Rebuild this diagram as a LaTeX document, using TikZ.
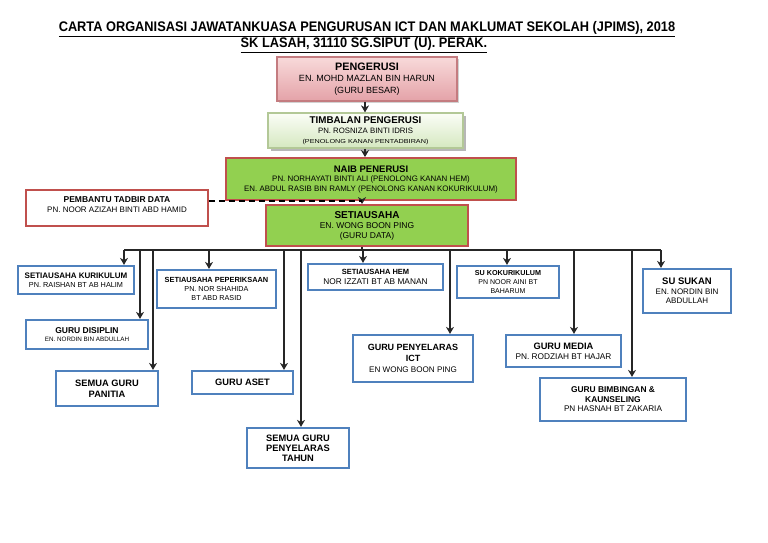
\documentclass[tikz,border=0pt]{standalone}
\usepackage{fontspec}
\setmainfont{Liberation Sans}
\usetikzlibrary{arrows.meta,shadows}
\definecolor{boxblue}{HTML}{4F81BD}
\definecolor{boxred}{HTML}{C0504D}
\definecolor{boxgreen}{HTML}{92D050}
\definecolor{pinktop}{HTML}{F8DADA}
\definecolor{pinkbot}{HTML}{E4A2A8}
\definecolor{pinkline}{HTML}{C47C80}
\definecolor{timbtop}{HTML}{FBFDF7}
\definecolor{timbbot}{HTML}{D5E8C0}
\definecolor{timbline}{HTML}{B3C897}
\newcommand\myfs[2]{\fontsize{#1}{#2}\selectfont}
\tikzset{
  box/.style={rectangle, inner sep=0pt, align=center, anchor=center},
  bluebox/.style={box, draw=boxblue, line width=2.2pt, fill=white},
  greenbox/.style={box, draw=boxred, line width=1.8pt, fill=boxgreen},
  whitered/.style={box, draw=boxred, line width=1.6pt, fill=white},
  pinkbox/.style={box, draw=pinkline, line width=1.2pt, top color=pinktop, bottom color=pinkbot,
     drop shadow={shadow xshift=2pt, shadow yshift=-2pt, fill=black!35, opacity=0.5}},
  timbbox/.style={box, draw=timbline, line width=1.2pt, top color=timbtop, bottom color=timbbot,
     drop shadow={shadow xshift=3pt, shadow yshift=-3pt, fill=black!40, opacity=0.7}},
  arr/.style={line width=1.3pt, black!85, -{Stealth[length=7pt,width=8pt,inset=2.2pt]}},
  bus/.style={line width=1.2pt, black!85},
  dashline/.style={line width=2pt, black, dash pattern=on 6pt off 4pt}
}
\begin{document}
\begin{tikzpicture}[x=1pt,y=-1pt]
\useasboundingbox (0,0) rectangle (768,543);
% title
\node[anchor=base] (t1) at (367,32) {\scalebox{0.92}[1]{\myfs{13.9}{15}\bfseries\underline{CARTA ORGANISASI JAWATANKUASA PENGURUSAN ICT DAN MAKLUMAT SEKOLAH (JPIMS), 2018}}};
\node[anchor=base] (t2) at (364,48) {\scalebox{0.92}[1]{\myfs{13.9}{15}\bfseries\underline{SK LASAH, 31110 SG.SIPUT (U). PERAK.}}};
% top chain
\node[pinkbox, minimum width=180, minimum height=44, font=\myfs{9}{11.5}] (peng) at (367,79)
  {{\myfs{10.8}{12}\bfseries PENGERUSI}\\EN. MOHD MAZLAN BIN HARUN\\(GURU BESAR)};
\node[timbbox, minimum width=195, minimum height=35, font=\myfs{7.8}{10.5}] (timb) at (365.5,130.5)
  {{\myfs{9.8}{11}\bfseries TIMBALAN PENGERUSI}\\PN. ROSNIZA BINTI IDRIS\\[-0.5pt]{\scalebox{1.25}[1]{\myfs{5.8}{8}(PENOLONG KANAN PENTADBIRAN)}}};
\node[greenbox, minimum width=290, minimum height=42, font=\myfs{7.9}{9.5}] (naib) at (371,179)
  {{\myfs{9.5}{10}\bfseries NAIB PENERUSI}\\PN. NORHAYATI BINTI ALI (PENOLONG KANAN HEM)\\EN. ABDUL RASIB BIN RAMLY (PENOLONG KANAN KOKURIKULUM)};
\node[greenbox, minimum width=202, minimum height=41, font=\myfs{8.5}{10}] (setia) at (367,225.5)
  {{\myfs{10}{10}\bfseries SETIAUSAHA}\\EN. WONG BOON PING\\(GURU DATA)};
\node[whitered, minimum width=182, minimum height=36, font=\myfs{8}{10}, text depth=7pt] (pemb) at (117,208)
  {{\myfs{8.5}{10}\bfseries PEMBANTU TADBIR DATA}\\PN. NOOR AZIZAH BINTI ABD HAMID};
% second level
\node[bluebox, minimum width=116, minimum height=28, font=\myfs{7.3}{9}] (kur) at (76,280)
  {{\myfs{8}{9}\bfseries SETIAUSAHA KURIKULUM}\\PN. RAISHAN BT AB HALIM};
\node[bluebox, minimum width=119, minimum height=38, font=\myfs{7.2}{9}] (pep) at (216.5,289)
  {{\myfs{7.4}{9}\bfseries SETIAUSAHA PEPERIKSAAN}\\PN. NOR SHAHIDA\\BT ABD RASID};
\node[bluebox, minimum width=122, minimum height=29, font=\myfs{6.3}{8.5}] (dis) at (87,334.5)
  {{\myfs{8.5}{9}\bfseries GURU DISIPLIN}\\EN. NORDIN BIN ABDULLAH};
\node[bluebox, minimum width=102, minimum height=35, font=\myfs{9.3}{11}\bfseries] (pan) at (107,388.5)
  {SEMUA GURU\\PANITIA};
\node[bluebox, minimum width=101, minimum height=23, font=\myfs{9.3}{11}\bfseries] (aset) at (242.5,382.5)
  {GURU ASET};
\node[bluebox, minimum width=135, minimum height=26, font=\myfs{8.3}{10}] (hem) at (375.5,277)
  {{\myfs{7.5}{10}\bfseries SETIAUSAHA HEM}\\NOR IZZATI BT AB MANAN};
\node[bluebox, minimum width=120, minimum height=47, font=\myfs{8.1}{11}] (ict) at (413,358.5)
  {{\myfs{9}{11}\bfseries GURU PENYELARAS}\\{\myfs{9}{11}\bfseries ICT}\\EN WONG BOON PING};
\node[bluebox, minimum width=102, minimum height=40, font=\myfs{9.3}{10}\bfseries] (tahun) at (298,448)
  {SEMUA GURU\\PENYELARAS\\TAHUN};
\node[bluebox, minimum width=102, minimum height=32, font=\myfs{7}{9}] (koko) at (508,282)
  {{\myfs{7.2}{9}\bfseries SU KOKURIKULUM}\\PN NOOR AINI BT\\BAHARUM};
\node[bluebox, minimum width=88, minimum height=44, font=\myfs{8}{9.5}] (sukan) at (687,291)
  {{\myfs{9.5}{10}\bfseries SU SUKAN}\\EN. NORDIN BIN\\ABDULLAH};
\node[bluebox, minimum width=115, minimum height=32, font=\myfs{8.3}{10}] (media) at (563.5,351)
  {{\myfs{9.3}{10}\bfseries GURU MEDIA}\\PN. RODZIAH BT HAJAR};
\node[bluebox, minimum width=146, minimum height=43, font=\myfs{8.2}{9.5}] (bimb) at (613,399.5)
  {{\myfs{8.4}{9}\bfseries GURU BIMBINGAN \&}\\{\myfs{8.4}{9}\bfseries KAUNSELING}\\PN HASNAH BT ZAKARIA};
% top chain connectors
\coordinate (ca) at (365,0);
\coordinate (cb) at (362,0);
\draw[arr] (peng.south -| ca) -- (timb.north -| ca);
\draw[arr] (timb.south -| ca) -- (naib.north -| ca);
\draw[arr] (naib.south -| cb) -- (setia.north -| cb);
\coordinate (dj) at (362,201);
\draw[dashline] (pemb.east |- dj) -- (dj);
% bus
\coordinate (busL) at (124,250);
\coordinate (busR) at (661,250);
\coordinate (busM) at (362,250);
\draw[bus] (setia.south -| busM) -- (busM);
\draw[bus] (busL) -- (busR);
\foreach \xx/\tgt in {124/kur,140/dis,153/pan,209/pep,284/aset,301/tahun,363/hem,450/ict,507/koko,574/media,632/bimb,661/sukan}{
  \coordinate (d\tgt) at (\xx,250);
  \draw[arr] (d\tgt) -- (\tgt.north -| d\tgt);
}
\end{tikzpicture}
\end{document}
